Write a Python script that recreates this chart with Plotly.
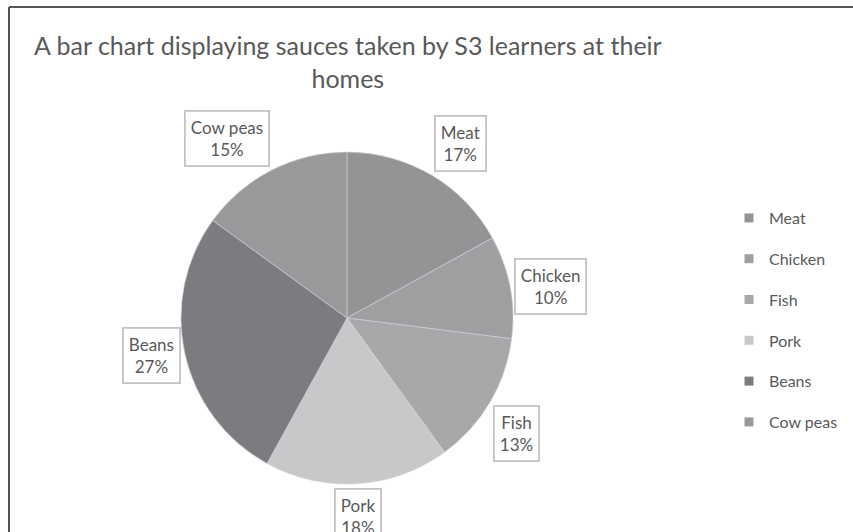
import math
import plotly.graph_objects as go

# ---- data ----
categories = ["Meat", "Chicken", "Fish", "Pork", "Beans", "Cow peas"]
percentages = [17, 10, 13, 18, 27, 15]
colors = ["#949497", "#9f9fa2", "#a8a8ab", "#c8c8ca", "#7c7c80", "#99999c"]
title_text = "A bar chart displaying sauces taken by S3 learners at their<br>homes"

W, H = 853, 532
FONT = "Lato"
TXT = "#595959"

# pie geometry (pixels)
cx, cy, r = 347, 318, 166

fig = go.Figure()
fig.add_trace(go.Pie(
    labels=categories, values=percentages, sort=False, direction="clockwise",
    rotation=0, marker=dict(colors=colors, line=dict(color="#d4d4d6", width=0.6)),
    textinfo="none", hoverinfo="label+percent", showlegend=False,
    domain=dict(x=[(cx - r) / W, (cx + r) / W], y=[1 - (cy + r) / H, 1 - (cy - r) / H]),
))

# legend entries (dummy traces so spacing can be controlled)
for i, (c, col) in enumerate(zip(categories, colors)):
    fig.add_trace(go.Scatter(
        x=[None], y=[None], mode="markers", name=c,
        marker=dict(symbol="square", size=9, color=col),
        legendgroup=f"g{i}", showlegend=True,
    ))

# callout labels placed just outside each slice
total = sum(percentages)
cum = 0
gap = 4
annotations = []
for c, v in zip(categories, percentages):
    theta = 2 * math.pi * (cum + v / 2) / total
    cum += v
    s, co = math.sin(theta), math.cos(theta)
    px = cx + (r + gap) * s
    py = cy - (r + gap) * co
    xa = "left" if s > 0.3 else ("right" if s < -0.3 else "center")
    ya = "bottom" if co > 0.3 else ("top" if co < -0.3 else "middle")
    annotations.append(dict(
        x=px / W, y=1 - py / H, xref="paper", yref="paper",
        xanchor=xa, yanchor=ya, showarrow=False,
        text=f"{c}<br>{round(100 * v / total)}%",
        font=dict(family=FONT, size=17, color=TXT),
        bordercolor="#c3c3c3", borderwidth=1.8, borderpad=5, bgcolor="white",
        align="center",
    ))

annotations.append(dict(
    x=348 / W, y=1 - 28 / H, xref="paper", yref="paper", xanchor="center", yanchor="top",
    showarrow=False, text=title_text, font=dict(family=FONT, size=25, color=TXT),
    align="center",
))

fig.update_layout(
    width=W, height=H, margin=dict(l=0, r=0, t=0, b=0),
    paper_bgcolor="white", plot_bgcolor="white",
    xaxis=dict(visible=False), yaxis=dict(visible=False),
    annotations=annotations,
    legend=dict(
        x=729 / W, xanchor="left", y=1 - 201 / H, yanchor="top",
        font=dict(family=FONT, size=16, color=TXT), tracegroupgap=17,
        bgcolor="rgba(0,0,0,0)",
    ),
    shapes=[
        dict(type="line", xref="paper", yref="paper", x0=9 / W, x1=1, y0=1 - 7 / H, y1=1 - 7 / H,
             line=dict(color="#555555", width=2)),
        dict(type="line", xref="paper", yref="paper", x0=9 / W, x1=9 / W, y0=1 - 7 / H, y1=0,
             line=dict(color="#555555", width=2)),
    ],
)

fig.write_html("out.html")
